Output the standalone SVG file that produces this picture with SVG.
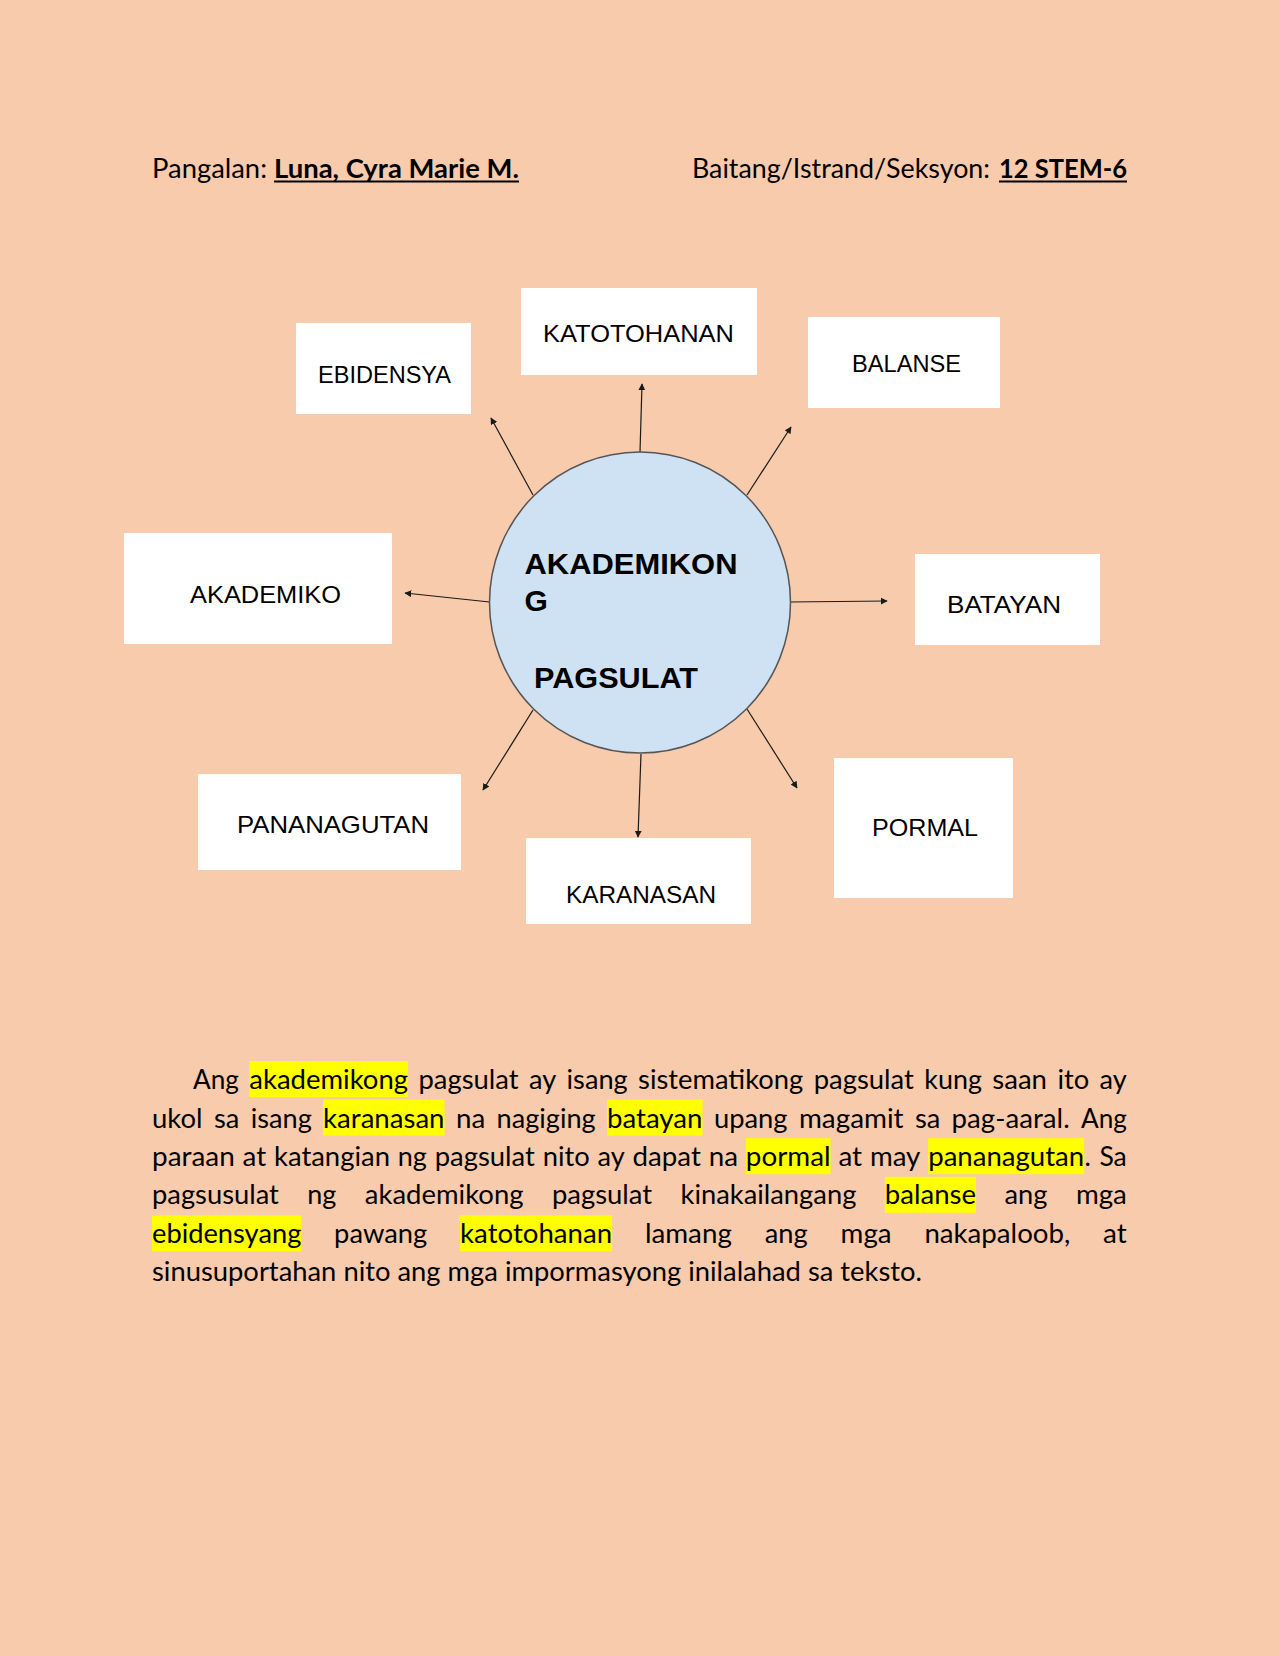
<svg xmlns="http://www.w3.org/2000/svg" width="1280" height="1656" viewBox="0 0 1280 1656">
<defs>
<style>
.bg{fill:#F8CBAD}
.box{fill:#FFFFFF}
.lbl{font-family:"Liberation Sans",Arial,sans-serif;font-size:24px;fill:#000;text-anchor:middle}
.ctr{font-family:"Liberation Sans",Arial,sans-serif;font-size:30px;font-weight:bold;fill:#000}
.body{font-family:Lato,"Liberation Sans",sans-serif;font-size:27px;fill:#000}
.b{font-weight:bold}
.hl{fill:#FFFF00}
.conn{stroke:#1a1a1a;stroke-width:1.2;fill:none;marker-end:url(#ah)}
</style>
<marker id="ah" viewBox="0 0 10 10" refX="9" refY="5" markerWidth="7" markerHeight="7" markerUnits="userSpaceOnUse" orient="auto">
<path d="M0,0 L10,5 L0,10 z" fill="#1a1a1a"/>
</marker>
</defs>
<rect class="bg" x="0" y="0" width="1280" height="1656"/>

<g id="header">
<text class="body" x="152" y="178" textLength="115" lengthAdjust="spacingAndGlyphs">Pangalan:</text>
<text class="body b" x="274" y="178" textLength="245" lengthAdjust="spacingAndGlyphs">Luna, Cyra Marie M.</text>
<rect x="274" y="180.5" width="245" height="2" fill="#000"/>
<text class="body" x="692" y="178" textLength="298" lengthAdjust="spacingAndGlyphs">Baitang/Istrand/Seksyon:</text>
<text class="body b" x="999" y="178" textLength="128" lengthAdjust="spacingAndGlyphs">12 STEM-6</text>
<rect x="999" y="180.5" width="128" height="2" fill="#000"/>
</g>

<g id="connectors">
<line class="conn" x1="640" y1="452" x2="642" y2="384"/>
<line class="conn" x1="533" y1="495" x2="491" y2="418"/>
<line class="conn" x1="747" y1="495" x2="791" y2="427"/>
<line class="conn" x1="489.5" y1="602" x2="405" y2="593"/>
<line class="conn" x1="790" y1="602" x2="887" y2="601"/>
<line class="conn" x1="533" y1="710" x2="483" y2="790"/>
<line class="conn" x1="641" y1="754" x2="638" y2="837"/>
<line class="conn" x1="747" y1="709" x2="797" y2="788"/>
</g>

<g id="center">
<circle cx="640" cy="602.5" r="150.5" fill="#CFE2F3" stroke="#555" stroke-width="1.5"/>
<text class="ctr" x="524.5" y="574" textLength="213" lengthAdjust="spacingAndGlyphs">AKADEMIKON</text>
<text class="ctr" x="524.5" y="611">G</text>
<text class="ctr" x="534" y="688" textLength="164" lengthAdjust="spacingAndGlyphs">PAGSULAT</text>
</g>

<g id="node-ebidensya">
<rect class="box" x="296" y="323" width="175" height="91"/>
<text class="lbl" x="384.5" y="383" textLength="133" lengthAdjust="spacingAndGlyphs">EBIDENSYA</text>
</g>
<g id="node-katotohanan">
<rect class="box" x="521" y="288" width="236" height="87"/>
<text class="lbl" x="638.5" y="342" textLength="191" lengthAdjust="spacingAndGlyphs">KATOTOHANAN</text>
</g>
<g id="node-balanse">
<rect class="box" x="808" y="317" width="192" height="91"/>
<text class="lbl" x="906.5" y="372" textLength="109" lengthAdjust="spacingAndGlyphs">BALANSE</text>
</g>
<g id="node-akademiko">
<rect class="box" x="124" y="533" width="268" height="111"/>
<text class="lbl" x="265.5" y="603" textLength="151" lengthAdjust="spacingAndGlyphs">AKADEMIKO</text>
</g>
<g id="node-batayan">
<rect class="box" x="915" y="554" width="185" height="91"/>
<text class="lbl" x="1004" y="613" textLength="114" lengthAdjust="spacingAndGlyphs">BATAYAN</text>
</g>
<g id="node-pananagutan">
<rect class="box" x="198" y="774" width="263" height="96"/>
<text class="lbl" x="333" y="833" textLength="192" lengthAdjust="spacingAndGlyphs">PANANAGUTAN</text>
</g>
<g id="node-karanasan">
<rect class="box" x="526" y="838" width="225" height="86"/>
<text class="lbl" x="641" y="903" textLength="150" lengthAdjust="spacingAndGlyphs">KARANASAN</text>
</g>
<g id="node-pormal">
<rect class="box" x="834" y="758" width="179" height="140"/>
<text class="lbl" x="925" y="836" textLength="106" lengthAdjust="spacingAndGlyphs">PORMAL</text>
</g>

<g id="paragraph">
<rect class="hl" x="249.3" y="1061" width="158.7" height="36"/>
<rect class="hl" x="323.1" y="1099.6" width="121.4" height="36"/>
<rect class="hl" x="607" y="1099.6" width="95.5" height="36"/>
<rect class="hl" x="745.8" y="1138.2" width="84.8" height="36"/>
<rect class="hl" x="928.2" y="1138.2" width="156" height="36"/>
<rect class="hl" x="884.8" y="1176.8" width="91.2" height="36"/>
<rect class="hl" x="152" y="1215.4" width="149.3" height="36"/>
<rect class="hl" x="460.1" y="1215.4" width="152" height="36"/>

<g lengthAdjust="spacingAndGlyphs">
<text class="body" y="1089" x="193" textLength="45.9" lengthAdjust="spacingAndGlyphs">Ang</text>
<text class="body" y="1089" x="249.3" textLength="158.7" lengthAdjust="spacingAndGlyphs">akademikong</text>
<text class="body" y="1089" x="418.4" textLength="100.2" lengthAdjust="spacingAndGlyphs">pagsulat</text>
<text class="body" y="1089" x="529" textLength="27.2" lengthAdjust="spacingAndGlyphs">ay</text>
<text class="body" y="1089" x="566.6" textLength="61.1" lengthAdjust="spacingAndGlyphs">isang</text>
<text class="body" y="1089" x="638.1" textLength="165.2" lengthAdjust="spacingAndGlyphs">sistematikong</text>
<text class="body" y="1089" x="813.7" textLength="100.2" lengthAdjust="spacingAndGlyphs">pagsulat</text>
<text class="body" y="1089" x="924.3" textLength="57.6" lengthAdjust="spacingAndGlyphs">kung</text>
<text class="body" y="1089" x="992.3" textLength="54.7" lengthAdjust="spacingAndGlyphs">saan</text>
<text class="body" y="1089" x="1057.4" textLength="31.8" lengthAdjust="spacingAndGlyphs">ito</text>
<text class="body" y="1089" x="1099.6" textLength="27.2" lengthAdjust="spacingAndGlyphs">ay</text>

<text class="body" y="1128" x="152" textLength="50.6" lengthAdjust="spacingAndGlyphs">ukol</text>
<text class="body" y="1128" x="214" textLength="25.4" lengthAdjust="spacingAndGlyphs">sa</text>
<text class="body" y="1128" x="250.7" textLength="61.1" lengthAdjust="spacingAndGlyphs">isang</text>
<text class="body" y="1128" x="323.1" textLength="121.4" lengthAdjust="spacingAndGlyphs">karanasan</text>
<text class="body" y="1128" x="455.9" textLength="29.3" lengthAdjust="spacingAndGlyphs">na</text>
<text class="body" y="1128" x="496.5" textLength="99.2" lengthAdjust="spacingAndGlyphs">nagiging</text>
<text class="body" y="1128" x="607" textLength="95.5" lengthAdjust="spacingAndGlyphs">batayan</text>
<text class="body" y="1128" x="713.9" textLength="73.7" lengthAdjust="spacingAndGlyphs">upang</text>
<text class="body" y="1128" x="798.9" textLength="104.7" lengthAdjust="spacingAndGlyphs">magamit</text>
<text class="body" y="1128" x="914.9" textLength="25.4" lengthAdjust="spacingAndGlyphs">sa</text>
<text class="body" y="1128" x="951.6" textLength="118.1" lengthAdjust="spacingAndGlyphs">pag-aaral.</text>
<text class="body" y="1128" x="1081.1" textLength="45.9" lengthAdjust="spacingAndGlyphs">Ang</text>

<text class="body" y="1166" x="152" textLength="82.7" lengthAdjust="spacingAndGlyphs">paraan</text>
<text class="body" y="1166" x="242.5" textLength="23.7" lengthAdjust="spacingAndGlyphs">at</text>
<text class="body" y="1166" x="274" textLength="116" lengthAdjust="spacingAndGlyphs">katangian</text>
<text class="body" y="1166" x="397.8" textLength="29.1" lengthAdjust="spacingAndGlyphs">ng</text>
<text class="body" y="1166" x="434.7" textLength="100.2" lengthAdjust="spacingAndGlyphs">pagsulat</text>
<text class="body" y="1166" x="542.7" textLength="47.1" lengthAdjust="spacingAndGlyphs">nito</text>
<text class="body" y="1166" x="597.6" textLength="27.2" lengthAdjust="spacingAndGlyphs">ay</text>
<text class="body" y="1166" x="632.6" textLength="68.3" lengthAdjust="spacingAndGlyphs">dapat</text>
<text class="body" y="1166" x="708.7" textLength="29.3" lengthAdjust="spacingAndGlyphs">na</text>
<text class="body" y="1166" x="745.8" textLength="84.8" lengthAdjust="spacingAndGlyphs">pormal</text>
<text class="body" y="1166" x="838.4" textLength="23.7" lengthAdjust="spacingAndGlyphs">at</text>
<text class="body" y="1166" x="869.9" textLength="50.5" lengthAdjust="spacingAndGlyphs">may</text>
<text class="body" y="1166" x="928.2" textLength="156" lengthAdjust="spacingAndGlyphs">pananagutan</text>
<text class="body" y="1166" x="1084.6">.</text>
<text class="body" y="1166" x="1099.4" textLength="27.4" lengthAdjust="spacingAndGlyphs">Sa</text>

<text class="body" y="1204" x="152" textLength="126.9" lengthAdjust="spacingAndGlyphs">pagsusulat</text>
<text class="body" y="1204" x="307.3" textLength="29.1" lengthAdjust="spacingAndGlyphs">ng</text>
<text class="body" y="1204" x="364.8" textLength="158.7" lengthAdjust="spacingAndGlyphs">akademikong</text>
<text class="body" y="1204" x="551.9" textLength="100.2" lengthAdjust="spacingAndGlyphs">pagsulat</text>
<text class="body" y="1204" x="680.5" textLength="175.9" lengthAdjust="spacingAndGlyphs">kinakailangang</text>
<text class="body" y="1204" x="884.8" textLength="91.2" lengthAdjust="spacingAndGlyphs">balanse</text>
<text class="body" y="1204" x="1004.4" textLength="43" lengthAdjust="spacingAndGlyphs">ang</text>
<text class="body" y="1204" x="1075.9" textLength="51" lengthAdjust="spacingAndGlyphs">mga</text>

<text class="body" y="1243" x="152" textLength="149.3" lengthAdjust="spacingAndGlyphs">ebidensyang</text>
<text class="body" y="1243" x="334.1" textLength="93.2" lengthAdjust="spacingAndGlyphs">pawang</text>
<text class="body" y="1243" x="460.1" textLength="152" lengthAdjust="spacingAndGlyphs">katotohanan</text>
<text class="body" y="1243" x="644.9" textLength="87" lengthAdjust="spacingAndGlyphs">lamang</text>
<text class="body" y="1243" x="764.8" textLength="43" lengthAdjust="spacingAndGlyphs">ang</text>
<text class="body" y="1243" x="840.6" textLength="51" lengthAdjust="spacingAndGlyphs">mga</text>
<text class="body" y="1243" x="924.4" textLength="145.9" lengthAdjust="spacingAndGlyphs">nakapaloob,</text>
<text class="body" y="1243" x="1103.1" textLength="23.7" lengthAdjust="spacingAndGlyphs">at</text>

<text class="body" x="152" y="1281" textLength="770" lengthAdjust="spacingAndGlyphs">sinusuportahan nito ang mga impormasyong inilalahad sa teksto.</text>
</g>
</g>
</svg>
